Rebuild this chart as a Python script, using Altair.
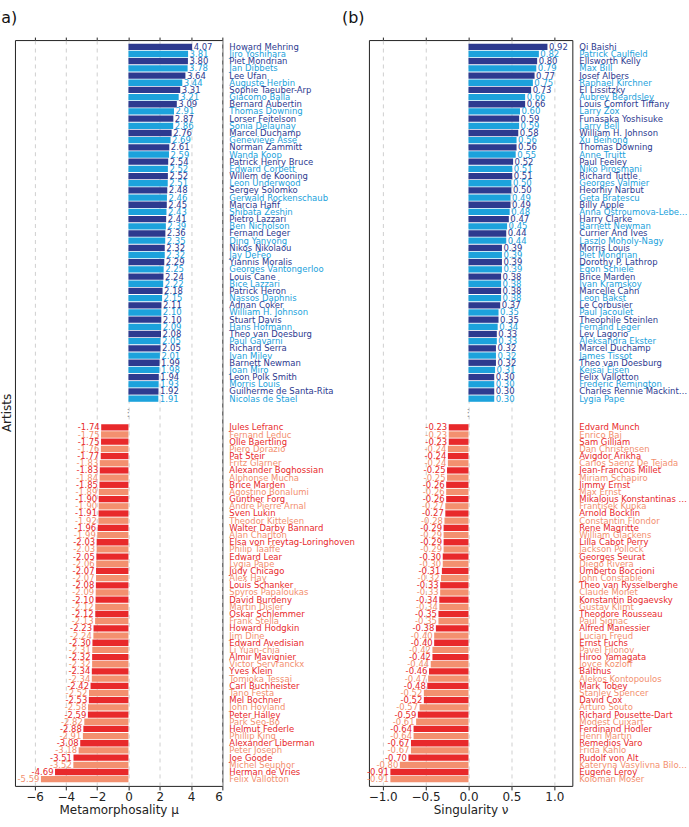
import altair as alt
import pandas as pd

# ---- Metamorphosality (panel a) ----
a_top_names = [
    "Howard Mehring", "Jiro Yoshihara", "Piet Mondrian", "Jan Dibbets", "Lee Ufan",
    "Auguste Herbin", "Sophie Taeuber-Arp", "Giacomo Balla", "Bernard Aubertin", "Thomas Downing",
    "Lorser Feitelson", "Sonia Delaunay", "Marcel Duchamp", "Genevieve Asse", "Norman Zammitt",
    "Wanda Koop", "Patrick Henry Bruce", "Edward Corbett", "Willem de Kooning", "Leon Underwood",
    "Sergey Solomko", "Gerwald Rockenschaub", "Marcia Hafif", "Shibata Zeshin", "Pietro Lazzari",
    "Ben Nicholson", "Fernand Leger", "Ding Yanyong", "Nikos Nikolaou", "Jay DeFeo",
    "Yiannis Moralis", "Georges Vantongerloo", "Louis Cane", "Bice Lazzari", "Patrick Heron",
    "Nassos Daphnis", "Adnan Coker", "William H. Johnson", "Stuart Davis", "Hans Hofmann",
    "Theo van Doesburg", "Paul Gavarni", "Richard Serra", "Ivan Milev", "Barnett Newman",
    "Joan Miro", "Leon Polk Smith", "Morris Louis", "Guilherme de Santa-Rita", "Nicolas de Stael",
]
a_top_values = [
    4.07, 3.81, 3.80, 3.78, 3.64, 3.44, 3.31, 3.21, 3.09, 2.91,
    2.87, 2.86, 2.76, 2.69, 2.61, 2.59, 2.54, 2.52, 2.52, 2.51,
    2.48, 2.46, 2.45, 2.43, 2.41, 2.39, 2.36, 2.35, 2.32, 2.32,
    2.29, 2.25, 2.24, 2.22, 2.18, 2.15, 2.11, 2.10, 2.10, 2.09,
    2.08, 2.05, 2.05, 2.01, 1.99, 1.98, 1.94, 1.93, 1.92, 1.91,
]
a_bot_names = [
    "Jules Lefranc", "Fernand Leduc", "Olle Baertling", "Piero Dorazio", "Pat Steir",
    "Fritz Glarner", "Alexander Boghossian", "Alphonse Mucha", "Brice Marden", "Agostino Bonalumi",
    "Gunther Forg", "Andre Pierre Arnal", "Sven Lukin", "Theodor Kittelsen", "Walter Darby Bannard",
    "Alan Charlton", "Elsa von Freytag-Loringhoven", "Philip Taaffe", "Edward Lear", "Lygia Pape",
    "Judy Chicago", "Alex Hay", "Louis Schanker", "Spyros Papaloukas", "David Burdeny",
    "Martin Disler", "Oskar Schlemmer", "Frank Stella", "Howard Hodgkin", "Jim Dine",
    "Edward Avedisian", "Li Yuan-chia", "Almir Mavignier", "Victor Servranckx", "Yves Klein",
    "Tomioka Tessai", "Carl Buchheister", "Tano Festa", "Mel Bochner", "John Hoyland",
    "Peter Halley", "Park Seo-Bo", "Helmut Federle", "Phillip King", "Alexander Liberman",
    "Peter Joseph", "Joe Goode", "Michel Seuphor", "Herman de Vries", "Felix Vallotton",
]
a_bot_values = [
    -1.74, -1.75, -1.75, -1.76, -1.77, -1.83, -1.83, -1.84, -1.85, -1.89,
    -1.90, -1.90, -1.91, -1.92, -1.96, -1.99, -2.03, -2.03, -2.05, -2.06,
    -2.07, -2.07, -2.08, -2.09, -2.10, -2.12, -2.12, -2.13, -2.23, -2.24,
    -2.30, -2.31, -2.32, -2.32, -2.34, -2.34, -2.42, -2.52, -2.53, -2.58,
    -2.59, -2.82, -2.88, -2.91, -3.08, -3.18, -3.51, -3.52, -4.69, -5.59,
]

# ---- Singularity (panel b) ----
b_top_names = [
    "Qi Baishi", "Patrick Caulfield", "Ellsworth Kelly", "Max Bill", "Josef Albers",
    "Raphael Kirchner", "El Lissitzky", "Aubrey Beardsley", "Louis Comfort Tiffany", "Larry Zox",
    "Funasaka Yoshisuke", "Larry Bell", "William H. Johnson", "Xu Beihong", "Thomas Downing",
    "Anne Truitt", "Paul Feeley", "Niko Pirosmani", "Richard Tuttle", "Georges Valmier",
    "Heorhiy Narbut", "Geta Bratescu", "Billy Apple", "Anna Ostroumova-Lebedeva", "Harry Clarke",
    "Barnett Newman", "Currier And Ives", "Laszlo Moholy-Nagy", "Morris Louis", "Piet Mondrian",
    "Dorothy P. Lathrop", "Egon Schiele", "Brice Marden", "Ivan Kramskoy", "Marcelle Cahn",
    "Leon Bakst", "Le Corbusier", "Paul Jacoulet", "Theophile Steinlen", "Fernand Leger",
    "Lev Lagorio", "Aleksandra Ekster", "Marcel Duchamp", "James Tissot", "Theo van Doesburg",
    "Keisai Eisen", "Felix Vallotton", "Frederic Remington", "Charles Rennie Mackintosh", "Lygia Pape",
]
b_top_values = [
    0.92, 0.82, 0.80, 0.79, 0.77, 0.75, 0.73, 0.66, 0.66, 0.60,
    0.59, 0.59, 0.58, 0.56, 0.56, 0.55, 0.52, 0.51, 0.51, 0.50,
    0.50, 0.49, 0.49, 0.48, 0.47, 0.45, 0.44, 0.44, 0.39, 0.39,
    0.39, 0.39, 0.38, 0.38, 0.38, 0.38, 0.37, 0.35, 0.35, 0.34,
    0.33, 0.33, 0.32, 0.32, 0.32, 0.31, 0.30, 0.30, 0.30, 0.30,
]
b_bot_names = [
    "Edvard Munch", "Enrico Baj", "Sam Gilliam", "Dan Christensen", "Avigdor Arikha",
    "Carlos Saenz De Tejada", "Jean-Francois Millet", "Miriam Schapiro", "Jimmy Ernst", "Max Ernst",
    "Mikalojus Konstantinas Ciurlionis", "Frantisek Kupka", "Arnold Bocklin", "Constantin Flondor", "Rene Magritte",
    "William Glackens", "Lilla Cabot Perry", "Jackson Pollock", "Georges Seurat", "Diego Rivera",
    "Umberto Boccioni", "John Constable", "Theo van Rysselberghe", "Claude Monet", "Konstantin Bogaevsky",
    "Gustav Klimt", "Theodore Rousseau", "Paul Signac", "Alfred Manessier", "Lucian Freud",
    "Ernst Fuchs", "Pavel Filonov", "Hiroo Yamagata", "Joyce Kozloff", "Balthus",
    "Alekos Kontopoulos", "Mark Tobey", "Stanley Spencer", "David Cox", "Arturo Souto",
    "Richard Pousette-Dart", "Modest Cuixart", "Ferdinand Hodler", "Henri Martin", "Remedios Varo",
    "Frida Kahlo", "Rudolf von Alt", "Kateryna Vasylivna Bilokur", "Eugene Leroy", "Koloman Moser",
]
b_bot_values = [
    -0.23, -0.23, -0.23, -0.24, -0.24, -0.24, -0.25, -0.25, -0.26, -0.26,
    -0.26, -0.27, -0.27, -0.28, -0.29, -0.29, -0.29, -0.29, -0.30, -0.30,
    -0.31, -0.32, -0.33, -0.33, -0.34, -0.34, -0.35, -0.35, -0.38, -0.40,
    -0.40, -0.42, -0.42, -0.44, -0.46, -0.47, -0.48, -0.52, -0.52, -0.57,
    -0.59, -0.61, -0.64, -0.64, -0.67, -0.67, -0.70, -0.80, -0.91, -0.91,
]

GAP = 3  # empty rows between the top and bottom groups
N_TOP = 50
N_ROWS = N_TOP + GAP + 50
ROWS = list(range(N_ROWS))
GAP_ROW = N_TOP + GAP // 2

classes = ["td", "tl", "bd", "bl"]
palette = ["#2d3a8f", "#1ca2dc", "#e8292b", "#f3906f"]

W_A, W_B, H = 208, 204, 748


def frame(top_names, top_vals, bot_names, bot_vals):
    rows = []
    for i, (n, v) in enumerate(zip(top_names, top_vals)):
        rows.append(dict(pos=i, name=n, value=v, cls="td" if i % 2 == 0 else "tl",
                         txt=f"{v:.2f}"))
    for j, (n, v) in enumerate(zip(bot_names, bot_vals)):
        rows.append(dict(pos=N_TOP + GAP + j, name=n, value=v,
                         cls="bd" if j % 2 == 0 else "bl", txt=f"{v:.2f}"))
    return pd.DataFrame(rows)


def panel(df, domain, ticks, fmt, xtitle, width, tag, tag_dx, label_limit, show_ytitle):
    xscale = alt.Scale(domain=domain, nice=False, zero=False)
    yscale = alt.Scale(domain=ROWS, paddingInner=0.12, paddingOuter=0.5)
    color = alt.Color("cls:N", scale=alt.Scale(domain=classes, range=palette), legend=None)
    x_plain = alt.X("value:Q", axis=None)
    y_plain = alt.Y("pos:O", axis=None)
    base = alt.Chart(df)

    bars = base.mark_bar().encode(
        x=alt.X("value:Q", scale=xscale,
                axis=alt.Axis(orient="bottom", values=ticks, format=fmt, title=xtitle,
                              grid=True, gridDash=[4, 4], gridColor="#cfcfcf",
                              domain=False, tickSize=4, tickColor="#222",
                              labelFontSize=12, labelColor="#222", labelPadding=2,
                              titleFontSize=12, titleFontWeight="normal",
                              titleColor="#222", titlePadding=2)),
        y=alt.Y("pos:O", scale=yscale,
                axis=alt.Axis(orient="right", labels=False, values=[int(p) for p in df["pos"]],
                              ticks=True, tickSize=3, tickColor="#444", domain=False,
                              grid=False, title=None)),
        color=color,
    )
    top_ticks = base.mark_point(opacity=0).encode(
        x=alt.X("value:Q",
                axis=alt.Axis(orient="top", values=ticks, labels=False, grid=False,
                              domain=False, tickSize=3, tickColor="#222", title=None)),
        y=y_plain,
    )
    pos_vals = base.transform_filter("datum.value > 0").mark_text(
        align="left", baseline="middle", dx=1.5, fontSize=8.5
    ).encode(x=x_plain, y=y_plain, text="txt:N", color=color)
    neg_vals = base.transform_filter("datum.value < 0").mark_text(
        align="right", baseline="middle", dx=-1.5, fontSize=8.5
    ).encode(x=x_plain, y=y_plain, text="txt:N", color=color)
    names = base.mark_text(
        align="left", baseline="middle", fontSize=8.5, limit=label_limit
    ).encode(x=alt.value(width + 7), y=y_plain, text="name:N", color=color)
    dots = alt.Chart(pd.DataFrame({"pos": [GAP_ROW], "value": [0.0], "t": ["\u22ee"]})).mark_text(
        baseline="middle", align="center", fontSize=10, color="#888"
    ).encode(x=x_plain, y=y_plain, text="t:N")

    layers = [bars, top_ticks, pos_vals, neg_vals, names, dots]
    if show_ytitle:
        ytitle = alt.Chart(pd.DataFrame({"t": ["Artists"]})).mark_text(
            angle=270, fontSize=12, color="#222", baseline="middle", align="center"
        ).encode(x=alt.value(-8), y=alt.value(H / 2), text="t:N")
        layers.append(ytitle)

    return alt.layer(*layers).properties(
        width=width, height=H,
        title=alt.TitleParams(tag, anchor="start", frame="group", dx=tag_dx, fontSize=16,
                              fontWeight="normal", color="#111", offset=11),
    )


df_a = frame(a_top_names, a_top_values, a_bot_names, a_bot_values)
df_b = frame(b_top_names, b_top_values, b_bot_names, b_bot_values)

pa = panel(df_a, [-7.25, 6], [-6, -4, -2, 0, 2, 4, 6], "d", "Metamorphosality \u03bc",
           W_A, "(a)", -20, 140, True)
pb = panel(df_b, [-1.16, 1.21], [-1.0, -0.5, 0.0, 0.5, 1.0], ".1f", "Singularity \u03bd",
           W_B, "(b)", -27, 110, False)

chart = alt.hconcat(pa, pb, spacing=147, bounds="flush").properties(
    padding={"left": -6, "top": 8, "right": 0, "bottom": 0}
).configure(
    font="DejaVu Sans",
).configure_view(
    stroke="#222", strokeWidth=1,
)

chart.save("out.html", embed_options={"renderer": "svg", "actions": False})
